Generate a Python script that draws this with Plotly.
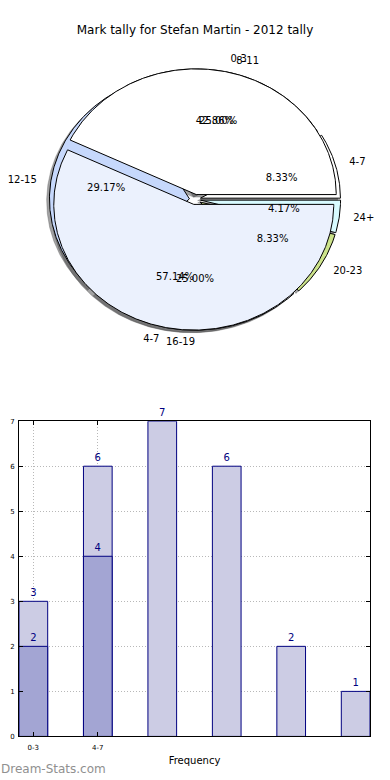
import numpy as np
import plotly.graph_objects as go

# ---------------- data ----------------
title_text = "Mark tally for Stefan Martin - 2012 tally"
# pie drawn behind (six bands)
pie_a_labels = ["4-7", "8-11", "12-15", "16-19", "20-23", "24+"]
pie_a_values = [2, 6, 7, 6, 2, 1]
pie_a_colors = ["#ffffff", "#ffffff", "#c6d8fc", "#ebf1fd", "#cce38a", "#d8fbff"]
# pie drawn in front (two bands)
pie_b_labels = ["0-3", "4-7"]
pie_b_values = [3, 4]
pie_b_colors = ["#ffffff", "#ebf1fd"]

# bar chart
bar_light_values = [3, 6, 7, 6, 2, 1]
bar_dark_values = [2, 4]
bar_tick_labels = ["0-3", "4-7"]
x_title = "Frequency"
watermark = "Dream-Stats.com"

# ---------------- geometry settings ----------------
W, H = 390, 780
EXPLODE = 0.04
RX, RY = 140.0, 127.0      # px per unit radius
CX, CY = 195.0, 197.5      # pie centre in px
PIE_TOP, PIE_BOT = 40.0, 362.0
LABEL_R = 1.1
PCT_R = 0.6
FONT = "DejaVu Sans"

fig = go.Figure()


def wedges(values):
    total = float(sum(values))
    out = []
    a0 = 0.0
    for v in values:
        a1 = a0 + 360.0 * v / total
        out.append((a0, a1, 100.0 * v / total))
        a0 = a1
    return out


def wedge_poly(a0, a1, dx=0.0, dy=0.0):
    mid = np.deg2rad((a0 + a1) / 2)
    ox = EXPLODE * np.cos(mid) + dx
    oy = EXPLODE * np.sin(mid) + dy
    t = np.deg2rad(np.linspace(a0, a1, max(int(a1 - a0) * 2, 4)))
    xs = np.concatenate([[ox], ox + np.cos(t), [ox]])
    ys = np.concatenate([[oy], oy + np.sin(t), [oy]])
    return xs, ys


pies = [
    (pie_a_labels, pie_a_values, pie_a_colors),
    (pie_b_labels, pie_b_values, pie_b_colors),
]

# shadows first
for labels, values, colors in pies:
    for (a0, a1, pct), col in zip(wedges(values), colors):
        xs, ys = wedge_poly(a0, a1, -0.02, -0.02)
        fig.add_trace(go.Scatter(x=xs, y=ys, mode="lines", fill="toself",
                                 fillcolor="rgba(70,70,72,0.5)",
                                 line=dict(width=0.6, color="rgba(70,70,72,0.5)"),
                                 hoverinfo="skip", showlegend=False,
                                 xaxis="x", yaxis="y"))

# wedges
for labels, values, colors in pies:
    for (a0, a1, pct), col in zip(wedges(values), colors):
        xs, ys = wedge_poly(a0, a1)
        fig.add_trace(go.Scatter(x=xs, y=ys, mode="lines", fill="toself",
                                 fillcolor=col, line=dict(width=1, color="black"),
                                 hoverinfo="skip", showlegend=False,
                                 xaxis="x", yaxis="y"))

# labels and percentages
for labels, values, colors in pies:
    for (a0, a1, pct), lab in zip(wedges(values), labels):
        mid = np.deg2rad((a0 + a1) / 2)
        c, s = np.cos(mid), np.sin(mid)
        lx = (LABEL_R + EXPLODE) * c
        ly = (LABEL_R + EXPLODE) * s
        pos = "middle right" if c > 1e-9 else "middle left"
        fig.add_trace(go.Scatter(x=[lx], y=[ly], mode="text", text=[lab],
                                 textposition=pos,
                                 textfont=dict(family=FONT, size=10, color="black"),
                                 hoverinfo="skip", showlegend=False,
                                 xaxis="x", yaxis="y"))
        px_ = (PCT_R + EXPLODE) * c
        py_ = (PCT_R + EXPLODE) * s
        fig.add_trace(go.Scatter(x=[px_], y=[py_], mode="text", text=[f"{pct:.2f}%"],
                                 textposition="middle center",
                                 textfont=dict(family=FONT, size=10, color="black"),
                                 hoverinfo="skip", showlegend=False,
                                 xaxis="x", yaxis="y"))

# ---------------- bar chart ----------------
BAR_W = 0.445
bar_x_light = list(range(len(bar_light_values)))
bar_x_dark = list(range(len(bar_dark_values)))
fig.add_trace(go.Bar(x=bar_x_light, y=bar_light_values, width=BAR_W,
                     marker=dict(color="#ccccE4", line=dict(color="#000080", width=1)),
                     text=[str(v) for v in bar_light_values], textposition="outside",
                     textfont=dict(family=FONT, size=10, color="#000080"),
                     cliponaxis=False, hoverinfo="skip", showlegend=False,
                     xaxis="x2", yaxis="y2"))
fig.add_trace(go.Bar(x=bar_x_dark, y=bar_dark_values, width=BAR_W,
                     marker=dict(color="#a3a5d3", line=dict(color="#000080", width=1)),
                     text=[str(v) for v in bar_dark_values], textposition="outside",
                     textfont=dict(family=FONT, size=10, color="#000080"),
                     cliponaxis=False, hoverinfo="skip", showlegend=False,
                     xaxis="x2", yaxis="y2"))

# ---------------- layout ----------------
x_half = CX / RX
y_top = (CY - PIE_TOP) / RY
y_bot = (PIE_BOT - CY) / RY

bar_left, bar_right = 19.0, 370.0
bar_top, bar_bot = 421.5, 740.0
nb = len(bar_light_values)

fig.update_layout(
    width=W, height=H,
    margin=dict(l=0, r=0, t=0, b=0),
    paper_bgcolor="white", plot_bgcolor="white",
    barmode="overlay",
    font=dict(family=FONT, color="black"),
    title=dict(text=title_text, x=0.5, xanchor="center", y=1 - 30 / H, yanchor="middle",
               font=dict(family=FONT, size=12, color="black")),
    xaxis=dict(domain=[0, 1], range=[-x_half, x_half], visible=False, fixedrange=True),
    yaxis=dict(domain=[1 - PIE_BOT / H, 1 - PIE_TOP / H], range=[-y_bot, y_top],
               visible=False, fixedrange=True),
    xaxis2=dict(domain=[bar_left / W, bar_right / W],
                range=[-BAR_W / 2, nb - 1 + BAR_W / 2],
                tickvals=list(range(len(bar_tick_labels))), ticktext=bar_tick_labels,
                ticks="inside", ticklen=4, tickcolor="black",
                showline=True, linecolor="black", linewidth=1, mirror="ticks",
                showgrid=True, gridcolor="#b8b8b8", griddash="1px,2px", gridwidth=1,
                zeroline=False, tickfont=dict(family=FONT, size=7, color="black"),
                ticklabelstandoff=4,
                title=dict(text=x_title, font=dict(family=FONT, size=10, color="black"),
                           standoff=6),
                anchor="y2"),
    yaxis2=dict(domain=[1 - bar_bot / H, 1 - bar_top / H], range=[0, 7],
                tickvals=list(range(0, 8)), ticks="inside", ticklen=4, tickcolor="black",
                showline=True, linecolor="black", linewidth=1, mirror="ticks",
                showgrid=True, gridcolor="#b8b8b8", griddash="1px,2px", gridwidth=1,
                zeroline=False, tickfont=dict(family=FONT, size=7, color="black"),
                ticklabelstandoff=2,
                anchor="x2"),
    annotations=[dict(text=watermark, xref="paper", yref="paper", x=-0.003, y=1 - 773 / H,
                      xanchor="left", yanchor="middle", showarrow=False,
                      font=dict(family=FONT, size=12, color="#909090"))],
)

fig.write_html("out.html", config={"displayModeBar": False},
               post_script="document.body.style.margin='0';document.body.style.overflow='hidden';")
